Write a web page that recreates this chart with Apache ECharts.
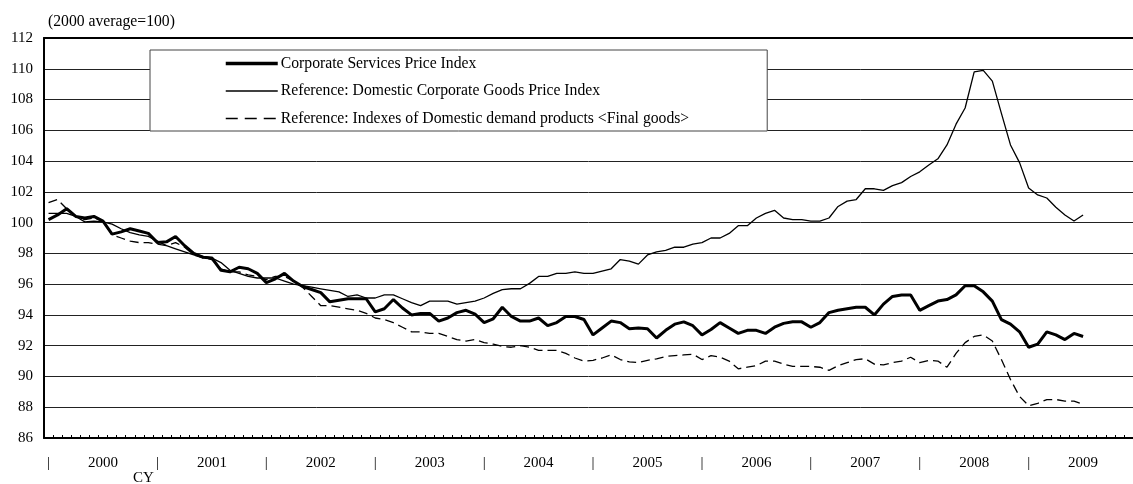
<!DOCTYPE html>
<html>
<head>
<meta charset="utf-8">
<script src="https://cdn.jsdelivr.net/npm/echarts@6/dist/echarts.min.js"></script>
<style>
html,body{margin:0;padding:0;background:#fff;}
#c{width:1133px;height:484px;}
</style>
</head>
<body>
<div id="c"></div>
<script>
// ---- data (monthly, Jan 2000 onward) ----
const years = ['2000','2001','2002','2003','2004','2005','2006','2007','2008','2009'];
const months = [];
years.forEach(y => { for (let m = 1; m <= 12; m++) months.push(y + '/' + m); });

const seriesNames = [
  'Corporate Services Price Index',
  'Reference: Domestic Corporate Goods Price Index',
  'Reference: Indexes of Domestic demand products <Final goods>'
];

const cspi = [
  100.2,100.5,100.9,100.4,100.3,100.4,100.1,99.25,99.4,99.6,99.45,99.3,
  98.7,98.75,99.1,98.5,98.0,97.75,97.7,96.9,96.8,97.1,97.0,96.7,
  96.1,96.35,96.7,96.2,95.85,95.65,95.45,94.85,94.95,95.05,95.05,95.05,
  94.2,94.4,95.0,94.45,94.0,94.1,94.1,93.6,93.8,94.15,94.3,94.05,
  93.5,93.75,94.5,93.9,93.6,93.6,93.8,93.3,93.5,93.9,93.9,93.7,
  92.7,93.15,93.6,93.5,93.1,93.15,93.1,92.5,93.0,93.4,93.55,93.3,
  92.7,93.05,93.5,93.15,92.8,93.0,93.0,92.8,93.2,93.45,93.55,93.55,
  93.2,93.5,94.15,94.3,94.4,94.5,94.5,94.0,94.7,95.2,95.3,95.3,
  94.3,94.6,94.9,95.0,95.3,95.9,95.9,95.5,94.9,93.7,93.4,92.9,
  91.9,92.1,92.9,92.7,92.4,92.8,92.6
];

const cgpi = [
  100.6,100.6,100.6,100.4,100.05,100.1,100.05,99.9,99.6,99.35,99.2,99.1,
  98.8,98.5,98.3,98.1,97.9,97.8,97.7,97.4,96.9,96.7,96.5,96.4,
  96.4,96.4,96.2,96.0,95.9,95.8,95.7,95.6,95.5,95.2,95.3,95.1,
  95.1,95.3,95.3,95.05,94.8,94.6,94.9,94.9,94.9,94.7,94.8,94.9,
  95.1,95.4,95.65,95.7,95.7,96.05,96.5,96.5,96.7,96.7,96.8,96.7,
  96.7,96.85,97.0,97.6,97.5,97.3,97.9,98.1,98.2,98.4,98.4,98.6,
  98.7,99.0,99.0,99.3,99.8,99.8,100.3,100.6,100.8,100.3,100.2,100.2,
  100.1,100.1,100.3,101.05,101.4,101.5,102.2,102.2,102.1,102.4,102.6,103.0,
  103.3,103.75,104.15,105.05,106.4,107.45,109.8,109.9,109.2,107.1,105.05,103.9,
  102.25,101.8,101.6,101.0,100.5,100.1,100.5
];

const finalGoods = [
  101.3,101.5,100.9,100.4,100.2,100.3,100.1,99.2,99.0,98.8,98.7,98.7,
  98.6,98.5,98.7,98.4,97.9,97.7,97.6,97.0,96.8,96.8,96.6,96.5,
  96.3,96.5,96.5,96.2,95.8,95.2,94.6,94.6,94.5,94.4,94.3,94.1,
  93.8,93.7,93.5,93.2,92.9,92.9,92.8,92.8,92.6,92.4,92.3,92.4,
  92.2,92.1,91.95,91.9,92.0,91.9,91.7,91.7,91.7,91.5,91.2,91.0,
  91.05,91.2,91.4,91.1,90.95,90.9,91.05,91.15,91.3,91.35,91.4,91.45,
  91.1,91.35,91.25,91.0,90.5,90.6,90.7,91.0,91.0,90.8,90.65,90.65,
  90.65,90.6,90.4,90.7,90.9,91.1,91.15,90.8,90.75,90.9,91.0,91.25,
  90.9,91.05,91.0,90.6,91.5,92.2,92.6,92.7,92.3,91.1,89.8,88.7,
  88.1,88.25,88.5,88.5,88.4,88.4,88.2
];

const yTicks = { min: 86, max: 112, interval: 2 };
const FONT = '"Liberation Serif", "Times New Roman", serif';

const chart = echarts.init(document.getElementById('c'));
chart.setOption({
  animation: false,
  backgroundColor: '#fff',
  textStyle: { fontFamily: FONT, color: '#000' },
  title: {
    text: '(2000 average=100)',
    left: 43, top: 9,
    textStyle: { fontFamily: FONT, fontSize: 15.7, fontWeight: 'normal', color: '#000' }
  },
  graphic: [{
    type: 'text', left: 133, top: 471,
    style: { text: 'CY', font: '15px ' + FONT, fill: '#000' }
  }],
  legend: {
    orient: 'vertical',
    left: 150, top: 50,
    padding: [5.5, 78, 4.5, 74],
    itemGap: 11.5,
    itemWidth: 52, itemHeight: 16,
    borderColor: '#444', borderWidth: 1,
    backgroundColor: '#fff',
    itemStyle: { opacity: 0 },
    textStyle: { fontFamily: FONT, fontSize: 15.7, color: '#000', padding: [0, 0, 0, -2] },
    data: [
      { name: seriesNames[0], lineStyle: { width: 3.5, color: '#000' } },
      { name: seriesNames[1], lineStyle: { width: 1.3, color: '#000' } },
      { name: seriesNames[2], lineStyle: { width: 1.6, color: '#000', type: [12, 7] } }
    ]
  },
  grid: { left: 44, right: -2, top: 38, bottom: 46, containLabel: false },
  xAxis: [{
    type: 'category',
    data: months,
    boundaryGap: true,
    position: 'bottom',
    axisLine: { show: true, lineStyle: { color: '#000', width: 2 } },
    axisTick: { show: true, inside: true, length: 3, interval: 0, lineStyle: { color: '#000', width: 1 } },
    axisLabel: {
      interval: (idx) => idx % 12 === 0 || idx % 12 === 6,
      formatter: (val, idx) => (idx % 12 === 6 ? years[Math.floor(idx / 12)] : '|'),
      fontFamily: FONT, fontSize: 15, color: '#000', margin: 18
    },
    splitLine: { show: false }
  }, {
    type: 'category',
    data: months,
    boundaryGap: true,
    position: 'top',
    axisLine: { show: true, lineStyle: { color: '#000', width: 2 } },
    axisTick: { show: false },
    axisLabel: { show: false },
    splitLine: { show: false }
  }],
  yAxis: {
    type: 'value',
    min: yTicks.min, max: yTicks.max, interval: yTicks.interval,
    axisLine: { show: true, lineStyle: { color: '#000', width: 2 } },
    axisTick: { show: false },
    axisLabel: { fontFamily: FONT, fontSize: 15, color: '#000', margin: 11 },
    splitLine: { show: true, lineStyle: { color: '#222', width: 1 } }
  },
  series: [{
    name: seriesNames[0], type: 'line', data: cspi, xAxisIndex: 0,
    symbol: 'none', z: 5,
    lineStyle: { color: '#000', width: 3 }, itemStyle: { color: '#000' }
  }, {
    name: seriesNames[1], type: 'line', data: cgpi, xAxisIndex: 0,
    symbol: 'none', z: 4,
    lineStyle: { color: '#000', width: 1.3 }, itemStyle: { color: '#000' }
  }, {
    name: seriesNames[2], type: 'line', data: finalGoods, xAxisIndex: 0,
    symbol: 'none', z: 3,
    lineStyle: { color: '#000', width: 1.3, type: [9, 5] }, itemStyle: { color: '#000' }
  }]
});
</script>
</body>
</html>
